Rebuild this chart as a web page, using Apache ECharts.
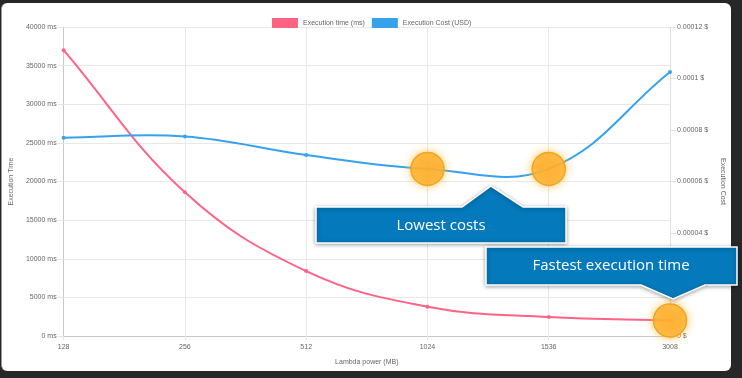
<!DOCTYPE html>
<html><head><meta charset="utf-8">
<script src="https://cdn.jsdelivr.net/npm/echarts@6/dist/echarts.min.js"></script>
<style>
html,body{margin:0;padding:0;background:#272727;width:742px;height:378px;overflow:hidden}
#card{position:absolute;left:1px;top:3px;width:729px;height:368px;background:#fff;border-radius:6px;border-left:1px solid #9a9a9a}
#main{position:absolute;left:0;top:0;width:742px;height:378px}
</style></head><body>
<div id="card"></div><div id="main"></div>
<script>
const categories = ['128', '256', '512', '1024', '1536', '3008'];
const executionTime = [37000, 18600, 8400, 3800, 2450, 2000];
const executionCost = [0.0000770, 0.0000775, 0.0000703, 0.0000649, 0.0000649, 0.0001025];
const timeTicks = {min: 0, max: 40000, interval: 5000};
const costTicks = {min: 0, max: 0.00012, interval: 0.00002};
const lowCostIdx = [3, 4];
const fastestIdx = [5];

const chart = echarts.init(document.getElementById('main'), null, {renderer: 'canvas'});
const FONT = 'Liberation Sans, Arial, sans-serif';
const RED = '#ff6384', BLUE = '#36a2eb';
const TENSION = 0.4;
const glow = {
  color: 'rgba(255,172,40,0.78)', borderColor: '#f5a21c', borderWidth: 1.5,
  shadowColor: 'rgba(255,190,60,0.9)', shadowBlur: 8
};
function fmtCost(v) {
  if (v === 0) return '0 $';
  return parseFloat(v.toPrecision(6)) + ' $';
}
// Chart.js-style spline (tension) drawn through the ECharts coordinate system
function splineRenderer(values, color) {
  return function (params, api) {
    if (params.dataIndex !== 0) return null;
    const pts = values.map((v, i) => api.coord([i, v]));
    const cps = pts.map((cur, i) => {
      const prev = pts[i - 1] || cur, next = pts[i + 1] || cur;
      const d01 = Math.hypot(cur[0] - prev[0], cur[1] - prev[1]);
      const d12 = Math.hypot(next[0] - cur[0], next[1] - cur[1]);
      let s01 = d01 / (d01 + d12), s12 = d12 / (d01 + d12);
      if (isNaN(s01)) s01 = 0; if (isNaN(s12)) s12 = 0;
      const fa = TENSION * s01, fb = TENSION * s12;
      return {
        p: [cur[0] - fa * (next[0] - prev[0]), cur[1] - fa * (next[1] - prev[1])],
        n: [cur[0] + fb * (next[0] - prev[0]), cur[1] + fb * (next[1] - prev[1])]
      };
    });
    let d = 'M' + pts[0][0] + ' ' + pts[0][1];
    for (let i = 0; i < pts.length - 1; i++) {
      const a = cps[i].n, b = cps[i + 1].p, e = pts[i + 1];
      d += ' C' + a[0] + ' ' + a[1] + ' ' + b[0] + ' ' + b[1] + ' ' + e[0] + ' ' + e[1];
    }
    return {
      type: 'path', shape: {pathData: d},
      style: {fill: null, stroke: color, lineWidth: 2}
    };
  };
}
chart.setOption({
  backgroundColor: 'transparent',
  animation: false,
  textStyle: {fontFamily: FONT},
  legend: {
    top: 13, left: 267, itemWidth: 26, itemHeight: 10, itemGap: 7, icon: 'rect',
    textStyle: {fontSize: 7, color: '#666', fontFamily: FONT},
    data: ['Execution time (ms)', 'Execution Cost (USD)']
  },
  grid: {left: 60, right: 72, top: 27, bottom: 42},
  xAxis: {
    type: 'category', data: categories, boundaryGap: false,
    name: 'Lambda power (MB)', nameLocation: 'middle', nameGap: 23,
    nameTextStyle: {fontSize: 7, color: '#666'},
    axisLine: {lineStyle: {color: '#c8c8c8'}},
    axisTick: {show: true, length: 4, lineStyle: {color: '#e6e6e6'}},
    axisLabel: {fontSize: 7, color: '#666', margin: 8},
    splitLine: {show: true, lineStyle: {color: '#e8e8e8'}}
  },
  yAxis: [{
    type: 'value', min: timeTicks.min, max: timeTicks.max, interval: timeTicks.interval,
    name: 'Execution Time', nameLocation: 'middle', nameGap: 48,
    nameTextStyle: {fontSize: 7, color: '#666'},
    axisLine: {show: true, lineStyle: {color: '#c8c8c8'}},
    axisTick: {show: true, length: 6, lineStyle: {color: '#e6e6e6'}},
    axisLabel: {fontSize: 7, color: '#666', margin: 7, formatter: v => v + ' ms'},
    splitLine: {show: true, lineStyle: {color: '#e8e8e8'}}
  }, {
    type: 'value', min: costTicks.min, max: costTicks.max, interval: costTicks.interval,
    position: 'right',
    name: 'Execution Cost', nameLocation: 'middle', nameGap: 47, nameRotate: -90,
    nameTextStyle: {fontSize: 7, color: '#666'},
    axisLine: {show: true, lineStyle: {color: '#e0e0e0'}},
    axisTick: {show: true, length: 6, lineStyle: {color: '#e0e0e0'}},
    axisLabel: {fontSize: 7, color: '#666', margin: 7, formatter: fmtCost},
    splitLine: {show: false}
  }],
  series: [{
    name: 'time-curve', type: 'custom', yAxisIndex: 0, z: 2, silent: true,
    data: executionTime.map((v, i) => [i, v]),
    renderItem: splineRenderer(executionTime, RED)
  }, {
    name: 'cost-curve', type: 'custom', yAxisIndex: 1, z: 2, silent: true,
    data: executionCost.map((v, i) => [i, v]),
    renderItem: splineRenderer(executionCost, BLUE)
  }, {
    name: 'Execution time (ms)', type: 'line', yAxisIndex: 0, data: executionTime, z: 3,
    symbol: 'circle', symbolSize: 4,
    lineStyle: {color: RED, width: 2, opacity: 0}, itemStyle: {color: RED},
    markPoint: {
      symbol: 'circle', symbolSize: 33, label: {show: false}, itemStyle: glow,
      data: fastestIdx.map(i => ({coord: [categories[i], executionTime[i]]}))
    }
  }, {
    name: 'Execution Cost (USD)', type: 'line', yAxisIndex: 1, data: executionCost, z: 3,
    symbol: 'circle', symbolSize: 4,
    lineStyle: {color: BLUE, width: 2, opacity: 0}, itemStyle: {color: BLUE},
    markPoint: {
      symbol: 'circle', symbolSize: 33, label: {show: false}, itemStyle: glow,
      data: lowCostIdx.map(i => ({coord: [categories[i], executionCost[i]]}))
    }
  }],
  graphic: [{
    type: 'polygon', z: 100,
    shape: {points: [[316,207],[462,207],[491,186],[523,207],[566,207],[566,243],[316,243]]},
    style: {fill: '#0479bb', stroke: '#fff', lineWidth: 1.5, shadowColor: 'rgba(0,0,0,0.35)', shadowBlur: 4, shadowOffsetY: 1}
  }, {
    type: 'text', z: 101, x: 441, y: 226,
    style: {text: 'Lowest costs', fill: '#fff', font: '15px "Open Sans", sans-serif', align: 'center', verticalAlign: 'middle'}
  }, {
    type: 'polygon', z: 100,
    shape: {points: [[486,247],[737,247],[737,285],[705,285],[673,299],[641,285],[486,285]]},
    style: {fill: '#0479bb', stroke: '#fff', lineWidth: 1.5, shadowColor: 'rgba(0,0,0,0.35)', shadowBlur: 4, shadowOffsetY: 1}
  }, {
    type: 'text', z: 101, x: 611, y: 266,
    style: {text: 'Fastest execution time', fill: '#fff', font: '15px "Open Sans", sans-serif', align: 'center', verticalAlign: 'middle'}
  }]
});
</script></body></html>
